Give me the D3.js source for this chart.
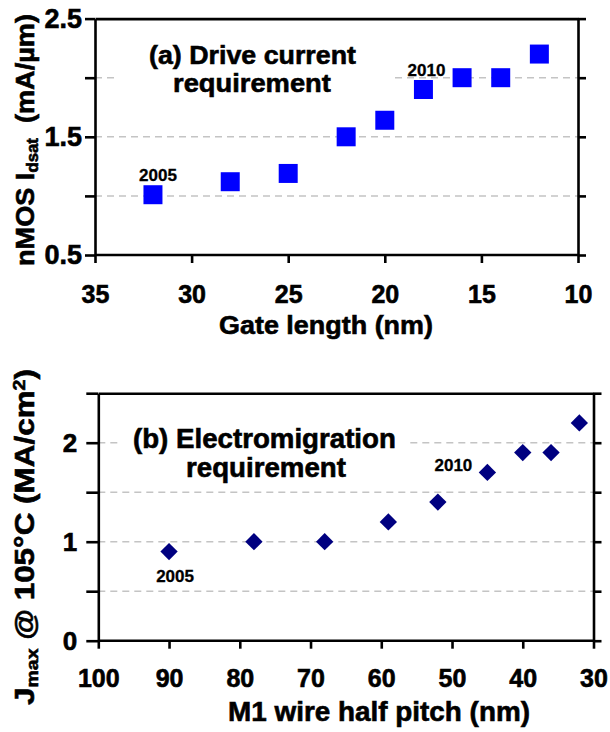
<!DOCTYPE html>
<head>
<meta charset="utf-8">
<style>
body { margin: 0; background: #fff; }
svg { display: block; }
text { font-family: "Liberation Sans", Arial, sans-serif; font-weight: bold; fill: #000; stroke: #000; stroke-width: 0.6px; }
.axis path, .axis line { stroke: #000; stroke-width: 2.6; }
.grid line { stroke: #c4c4c4; stroke-width: 1.5; stroke-dasharray: 7,5; }
</style>
</head>
<body>
<script src="https://cdnjs.cloudflare.com/ajax/libs/d3/7.8.5/d3.min.js"></script>
<script>

// (a) drive current vs gate length
var gateLength = [32, 28, 25, 22, 20, 18, 16, 14, 12];
var idsat = [1.01, 1.12, 1.19, 1.5, 1.64, 1.9, 2.0, 2.0, 2.2];
var xTicksA = [35, 30, 25, 20, 15, 10];
var yTicksA = [0.5, 1, 1.5, 2, 2.5];
var yLabelsA = [0.5, 1.5, 2.5];
var gridA = [1, 1.5, 2];

// (b) electromigration vs M1 half pitch
var halfPitch = [90, 78, 68, 59, 52, 45, 40, 36, 32];
var jmax = [0.9, 1.0, 1.0, 1.2, 1.4, 1.7, 1.9, 1.9, 2.2];
var xTicksB = [100, 90, 80, 70, 60, 50, 40, 30];
var yTicksB = [0, 0.5, 1, 1.5, 2, 2.5];
var yLabelsB = [0, 1, 2];
var gridB = [0.5, 1, 1.5, 2];

// year markers: index into the series
var yearsA = [{i: 0, label: "2005"}, {i: 5, label: "2010"}];
var yearsB = [{i: 0, label: "2005"}, {i: 5, label: "2010"}];

var width = 610, height = 732;

var svg = d3.select("body").append("svg")
    .attr("width", width)
    .attr("height", height);

// stretch a text horizontally so it spans w pixels
function stretch(g, text, w) {
  var len = text.node().getComputedTextLength();
  var s = w / len;
  g.attr("transform", g.attr("transform") + " scale(" + s + ",1)");
}

function panel(opt) {
  var x = d3.scaleLinear().domain(opt.xDomain).range(opt.xRange);
  var y = d3.scaleLinear().domain(opt.yDomain).range(opt.yRange);
  var g = svg.append("g");

  // grid
  g.append("g").attr("class", "grid")
    .selectAll("line").data(opt.grid).enter().append("line")
      .attr("x1", opt.xRange[0]).attr("x2", opt.xRange[1])
      .attr("y1", y).attr("y2", y);

  // white box behind the caption
  g.append("rect")
    .attr("x", opt.box[0]).attr("y", opt.box[1])
    .attr("width", opt.box[2]).attr("height", opt.box[3])
    .attr("fill", "#fff");

  // frame
  g.append("g").attr("class", "axis")
    .attr("transform", "translate(0," + opt.yRange[1] + ")")
    .call(d3.axisTop(x).tickValues([]).tickSizeOuter(0));
  g.append("g").attr("class", "axis")
    .attr("transform", "translate(" + opt.xRange[1] + ",0)")
    .call(d3.axisRight(y).tickValues(opt.yTicks).tickSize(8).tickSizeOuter(0).tickFormat(""));

  var xa = g.append("g").attr("class", "axis")
    .attr("transform", "translate(0," + opt.yRange[0] + ")")
    .call(d3.axisBottom(x).tickValues(opt.xTicks).tickSize(8).tickSizeOuter(0).tickPadding(opt.xPad));
  xa.selectAll("text").style("font-size", opt.tickFont + "px");

  var ya = g.append("g").attr("class", "axis")
    .attr("transform", "translate(" + opt.xRange[0] + ",0)")
    .call(d3.axisLeft(y).tickValues(opt.yTicks).tickSize(opt.yTickLen).tickSizeOuter(0).tickPadding(opt.yPad)
      .tickFormat(function(d) { return opt.yLabels.indexOf(d) >= 0 ? String(d) : ""; }));
  ya.selectAll("text").style("font-size", opt.yTickFont + "px");
  xa.select(".domain").attr("d", "M" + opt.xRange[0] + ",0H" + opt.xRange[1]);

  // points
  g.append("g").selectAll("path").data(opt.xs).enter().append("path")
    .attr("transform", function(d, i) {
      return "translate(" + x(d) + "," + y(opt.ys[i]) + ") rotate(" + opt.rot + ")";
    })
    .attr("d", d3.symbol().type(d3.symbolSquare).size(opt.markSize))
    .attr("fill", opt.color);

  // year labels
  g.append("g").selectAll("text").data(opt.years).enter().append("text")
    .attr("x", function(d, i) { return x(opt.xs[d.i]) + opt.yearOff[i][0]; })
    .attr("y", function(d, i) { return y(opt.ys[d.i]) + opt.yearOff[i][1]; })
    .attr("text-anchor", "middle")
    .style("font-size", "17px")
    .style("stroke-width", "0.3px")
    .text(function(d) { return d.label; });

  // caption
  opt.caption.forEach(function(c) {
    var cg = g.append("g").attr("transform", "translate(" + c.x + "," + c.y + ")");
    var t = cg.append("text").style("font-size", opt.capFont + "px").text(c.text);
    stretch(cg, t, c.w);
  });

  // x title
  var xg = g.append("g").attr("transform", "translate(" + opt.xTitle.x + "," + opt.xTitle.y + ")");
  var xt = xg.append("text").attr("text-anchor", "middle").style("font-size", opt.titleFont + "px").text(opt.xTitle.text);
  stretch(xg, xt, opt.xTitle.w);

  // y title
  var yg = g.append("g").attr("transform", "translate(" + opt.yTitle.x + "," + opt.yTitle.y + ") rotate(-90)");
  var yt = yg.append("text").attr("text-anchor", "middle").style("font-size", opt.titleFont + "px");
  opt.yTitle.parts.forEach(function(p) {
    var ts = yt.append("tspan").text(p.t);
    if (p.sub) ts.style("font-size", "0.62em").attr("dy", "0.25em");
    if (p.sup) ts.style("font-size", "0.62em").attr("dy", "-0.55em");
    if (p.back) ts.attr("dy", p.back);
  });
  stretch(yg, yt, opt.yTitle.w);
}

panel({
  xDomain: [35, 10], xRange: [95, 578],
  yDomain: [0.5, 2.5], yRange: [255, 18.6],
  xTicks: xTicksA, yTicks: yTicksA, yLabels: yLabelsA, grid: gridA,
  xPad: 22, yPad: 3, yTickLen: 10, tickFont: 25, yTickFont: 27,
  xs: gateLength, ys: idsat, color: "#0000ff", markSize: 19 * 19, rot: 0,
  years: yearsA, yearOff: [[5, -14], [3, -14]],
  box: [115, 38, 275, 64],
  capFont: 26,
  caption: [
    {text: "(a) Drive current", x: 149, y: 64, w: 207},
    {text: "requirement", x: 173, y: 92, w: 158}
  ],
  titleFont: 26,
  xTitle: {text: "Gate length (nm)", x: 326, y: 334, w: 214},
  yTitle: {x: 34, y: 140, w: 252, parts: [
    {t: "nMOS I"}, {t: "dsat", sub: true}, {t: "\u00a0 (mA/\u00b5m)", back: "-0.155em"}
  ]}
});

panel({
  xDomain: [100, 30], xRange: [98.3, 593.5],
  yDomain: [0, 2.5], yRange: [640.7, 393.2],
  xTicks: xTicksB, yTicks: yTicksB, yLabels: yLabelsB, grid: gridB,
  xPad: 21, yPad: 9, yTickLen: 12, tickFont: 25, yTickFont: 26,
  xs: halfPitch, ys: jmax, color: "#000080", markSize: 150, rot: 45,
  years: yearsB, yearOff: [[6, 30], [-34, -1]],
  box: [120, 423, 290, 60],
  capFont: 27,
  caption: [
    {text: "(b) Electromigration", x: 133, y: 448, w: 263},
    {text: "requirement", x: 186, y: 477, w: 160}
  ],
  titleFont: 27,
  xTitle: {text: "M1 wire half pitch (nm)", x: 379, y: 721, w: 302},
  yTitle: {x: 34, y: 537, w: 336, parts: [
    {t: "J"}, {t: "max", sub: true}, {t: " @ 105\u00b0C (MA/cm", back: "-0.155em"}, {t: "2", sup: true}, {t: ")", back: "0.34em"}
  ]}
});

</script>
</body>
</html>
